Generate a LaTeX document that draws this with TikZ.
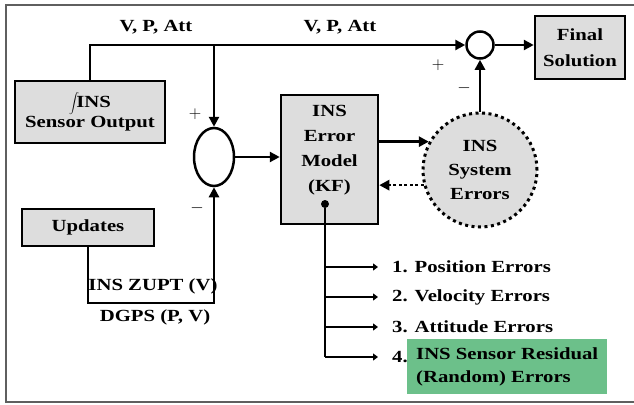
\documentclass[tikz,border=0pt]{standalone}
\usepackage{fontspec}
\setmainfont{Liberation Serif}[FakeStretch=1.22]
\usetikzlibrary{arrows.meta,shapes.geometric}
\definecolor{boxgray}{RGB}{221,221,221}
\definecolor{resgreen}{RGB}{108,192,138}
\definecolor{framegray}{RGB}{95,95,95}
\begin{document}
\begin{tikzpicture}[x=1pt,y=-1pt,
  lab/.style={font=\fontsize{17}{24}\selectfont\bfseries, inner sep=0pt},
  blk/.style={draw, line width=2.5pt, fill=boxgray, align=center, inner sep=0pt,
              font=\fontsize{17}{26}\selectfont\bfseries},
  conn/.style={line width=2.5pt},
  arr/.style={conn, -{Triangle[length=10pt,width=10pt]}},
  tick/.style={conn, -{Triangle[length=5pt,width=7pt]}},
  sgn/.style={font=\fontsize{18}{18}\selectfont, inner sep=0pt}]
\useasboundingbox (0,0) rectangle (634,404);
% frame
\draw[framegray, line width=1.5pt] (634,5) -- (6,5) -- (6,402) -- (634,402);

% blocks
\node[blk, minimum width=150pt, minimum height=62pt] (insbox) at (90,112) {$\displaystyle\int$\!INS\\[-6pt]Sensor Output};
\node[blk, minimum width=132pt, minimum height=37pt] (upd) at (88,227.5) {Updates};
\node[blk, minimum width=97pt, minimum height=129pt] (errmodel) at (329.5,159.5) {};
\node[lab, align=center, font=\fontsize{17}{25}\selectfont\bfseries] (errtxt) at (329.5,150) {INS\\Error\\Model\\(KF)};
\node[blk, minimum width=90pt, minimum height=63pt] (final) at (580,47.5) {Final\\Solution};
\node[circle, draw, line width=3pt, dash pattern=on 3pt off 3.5pt, fill=boxgray,
      minimum size=114pt, inner sep=0pt, align=center,
      font=\fontsize{17}{24}\selectfont\bfseries] (syserr) at (480,170) {INS\\System\\Errors};

% summing junctions
\node[ellipse, draw, line width=2.5pt, fill=white, minimum width=40pt, minimum height=58pt, inner sep=0pt] (sumL) at (214,157) {};
\node[circle, draw, line width=2.5pt, fill=white, minimum size=27pt, inner sep=0pt] (sumR) at (480,45) {};

% signs
\node[sgn] (pL) at (195,114) {$+$};
\node[sgn] (mL) at (197,208) {$-$};
\node[sgn] (pR) at (438,65) {$+$};
\node[sgn] (mR) at (464,88) {$-$};

% top line
\coordinate (tl) at (insbox.north |- sumR.west);
\draw[arr] (insbox.north) -- (tl) -- (sumR.west);
\draw[arr] (sumL.north |- sumR.west) -- (sumL.north);
\node[lab] (vpa1) at (156,27) {V, P, Att};
\node[lab] (vpa2) at (340,27) {V, P, Att};

% updates path
\coordinate (ub) at (upd.south |- 0,303);
\draw[arr] (upd.south) -- (ub) -- (sumL.south |- ub) -- (sumL.south);
\node[lab] (zupt) at (153,286) {INS ZUPT (V)};
\node[lab] (dgps) at (155,317) {DGPS (P, V)};

% to error model
\draw[arr] (sumL.east) -- (errmodel.west |- sumL.east);
% error model <-> system errors
\draw[arr] (errmodel.east |- syserr.151.7) -- (syserr.151.7);
\draw[conn, dash pattern=on 3pt off 2.5pt, -{Triangle[length=10pt,width=10pt]}] (syserr.195.3) -- (errmodel.east |- syserr.195.3);
% to sum right and final
\draw[arr] (syserr.north) -- (sumR.south);
\draw[arr] (sumR.east) -- (final.west |- sumR.east);

% error list
\node[circle, fill, inner sep=0pt, minimum size=8pt] (kfdot) at (325,204) {};
\node[lab, anchor=west] (l1) at (392,267) {1. Position Errors};
\node[lab, anchor=west] (l2) at (392,297) {2. Velocity Errors};
\node[lab, anchor=west] (l3) at (392,327) {3. Attitude Errors};
\node[lab, anchor=west] (l4) at (392,357) {4.};
\node[anchor=north west, fill=resgreen, minimum width=194pt, minimum height=55pt,
      inner xsep=9pt, inner ysep=4pt, align=left, font=\fontsize{17}{23}\selectfont\bfseries] (res) at (407,339)
      {INS Sensor Residual\\(Random) Errors};
\draw[conn] (kfdot) -- (kfdot |- l4.west);
\draw[tick, shorten >=14pt] (kfdot |- l1.west) -- (l1.west);
\draw[tick, shorten >=14pt] (kfdot |- l2.west) -- (l2.west);
\draw[tick, shorten >=14pt] (kfdot |- l3.west) -- (l3.west);
\draw[tick, shorten >=14pt] (kfdot |- l4.west) -- (l4.west);
\end{tikzpicture}
\end{document}
